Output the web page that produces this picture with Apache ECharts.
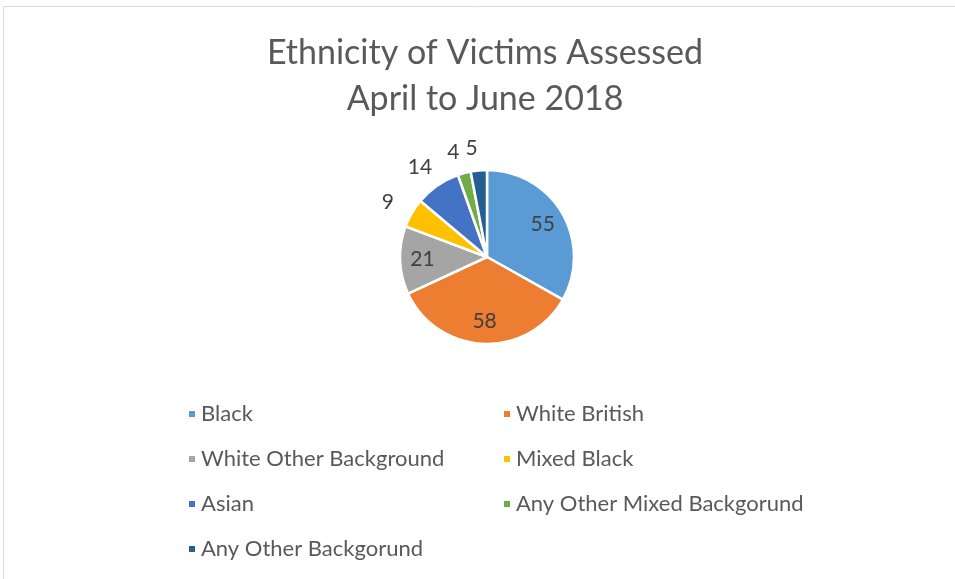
<!DOCTYPE html>
<html>
<head>
<meta charset="utf-8">
<script src="https://cdn.jsdelivr.net/npm/echarts@6/dist/echarts.min.js"></script>
<style>
  html, body { margin: 0; padding: 0; background: #fff; }
  #main { width: 955px; height: 579px; }
</style>
</head>
<body>
<div id="main"></div>
<script>
// data
var categories = ['Black', 'White British', 'White Other Background', 'Mixed Black', 'Asian', 'Any Other Mixed Backgorund', 'Any Other Backgorund']
var values = [55, 58, 21, 9, 14, 4, 5]
var colors = ['#5B9BD5', '#ED7D31', '#A5A5A5', '#FFC000', '#4472C4', '#70AD47', '#255E91']
var leftCol = ['Black', 'White Other Background', 'Asian', 'Any Other Backgorund']
var rightCol = ['White British', 'Mixed Black', 'Any Other Mixed Backgorund']

var font = 'Lato, "Open Sans", sans-serif'

// wedges
var pieData = categories.map(function (name, i) {
  return { name: name, value: values[i], itemStyle: { color: colors[i] } }
})
// same data, only used to place the value labels (big ones inside, small ones outside)
var labelData = categories.map(function (name, i) {
  return {
    name: name,
    value: values[i],
    label: { position: values[i] < 20 ? 'outside' : 'inside' }
  }
})

var chart = echarts.init(document.getElementById('main'))

var legendBase = {
  orient: 'vertical',
  top: 398,
  itemWidth: 8,
  itemHeight: 8,
  itemGap: 23,
  icon: 'rect',
  textStyle: { fontFamily: font, fontSize: 22, color: '#595959' }
}

var option = {
  animation: false,
  title: {
    text: 'Ethnicity of Victims Assessed\nApril to June 2018',
    left: 480,
    textAlign: 'center',
    top: 25,
    textStyle: {
      fontFamily: font,
      fontSize: 34,
      fontWeight: 'normal',
      color: '#595959',
      lineHeight: 46
    }
  },
  graphic: [{
    type: 'rect',
    shape: { x: 3.5, y: 6.5, width: 1000, height: 1000 },
    style: { fill: 'none', stroke: '#d9d9d9', lineWidth: 1 },
    silent: true
  }],
  legend: [
    Object.assign({ left: 182, data: leftCol }, legendBase),
    Object.assign({ left: 497, data: rightCol }, legendBase)
  ],
  series: [{
    type: 'pie',
    center: [487, 257],
    radius: 87,
    startAngle: 90,
    clockwise: true,
    data: pieData,
    itemStyle: { borderColor: '#fff', borderWidth: 2.5 },
    label: { show: false },
    labelLine: { show: false }
  }, {
    type: 'pie',
    center: [487, 257],
    radius: [36, 87],
    startAngle: 90,
    clockwise: true,
    silent: true,
    avoidLabelOverlap: false,
    data: labelData,
    itemStyle: { color: 'transparent' },
    label: {
      show: true,
      formatter: '{c}',
      fontFamily: font,
      fontSize: 21,
      color: '#404040'
    },
    labelLine: { show: false, length: 22, length2: 0 },
    labelLayout: function () {
      return { align: 'center' }
    }
  }]
}

chart.setOption(option)
</script>
</body>
</html>
